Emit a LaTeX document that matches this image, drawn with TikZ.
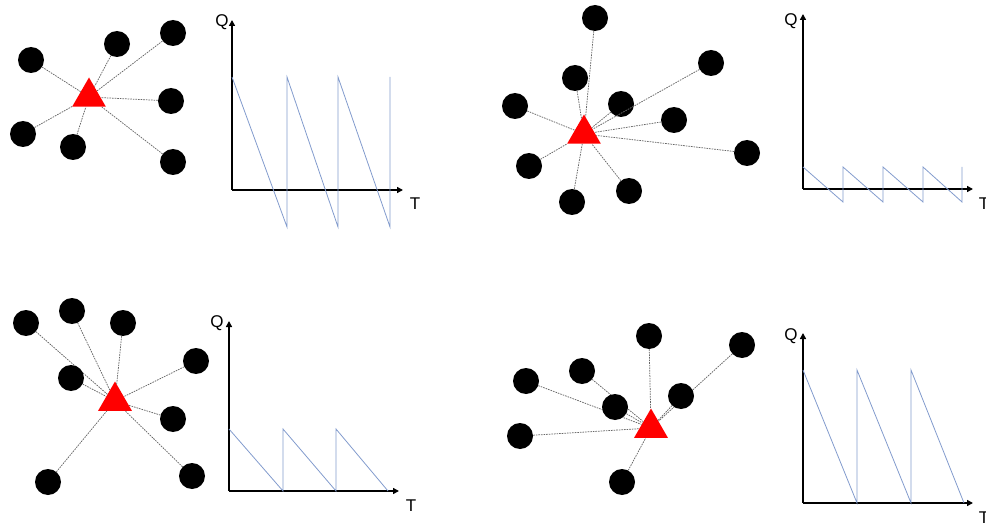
\documentclass[tikz,border=0pt]{standalone}
\usepackage{fontspec}
\setmainfont{Liberation Sans}
\usetikzlibrary{shapes.geometric,arrows.meta}
\begin{document}
\begin{tikzpicture}[x=1pt,y=-1pt,
 dot/.style={circle,fill=black,minimum size=26pt,inner sep=0pt},
 tri/.style={regular polygon,regular polygon sides=3,fill=red,minimum size=39pt,inner sep=0pt},
 link/.style={draw=black!60,dash pattern=on 1.6pt off 1pt,line width=0.75pt},
 axis/.style={line width=1.6pt,-{Triangle[length=6pt,width=6pt]}},
 saw/.style={draw={rgb,255:red,130;green,155;blue,205},line width=0.8pt},
 lab/.style={font=\fontsize{17}{17}\selectfont,inner sep=0pt}]
\useasboundingbox (0,0) rectangle (986,524);

% ---------- panel 1 ----------
\node[tri] (t1) at (89,97) {};
\foreach \n/\p in {a/{(31,60)},b/{(117,44)},c/{(173,33)},d/{(171,101)},e/{(23,134)},f/{(73,147)},g/{(173,162)}}
  {\node[dot] (p1\n) at \p {}; \draw[link] (p1\n) -- (t1);}
\coordinate (o1) at (232,190);
\draw[axis] (o1) -- (232,20);
\draw[axis] (o1) -- (403,190);
\node[lab] (q1) at (222,22) {Q};
\node[lab] (x1) at (415,204) {T};
\draw[saw] (232,77) -- (287,227) -- (287,77) -- (338,227) -- (338,77) -- (390,227) -- (390,77);

% ---------- panel 2 ----------
\node[tri] (t2) at (584,134) {};
\foreach \n/\p in {a/{(595,18)},b/{(575,78)},c/{(515,106)},d/{(621,104)},e/{(711,63)},f/{(674,120)},g/{(747,153)},h/{(529,166)},i/{(572,202)},j/{(629,191)}}
  {\node[dot] (p2\n) at \p {}; \draw[link] (p2\n) -- (t2);}
\coordinate (o2) at (803,189);
\draw[axis] (o2) -- (803,14);
\draw[axis] (o2) -- (973,189);
\node[lab] (q2) at (791,21) {Q};
\node[lab] (x2) at (984,204) {T};
\draw[saw] (803,167) -- (843,202) -- (843,167) -- (883,202) -- (883,167) -- (923,202) -- (923,167) -- (962,202) -- (962,167);

% ---------- panel 3 ----------
\node[tri] (t3) at (115,401) {};
\foreach \n/\p in {a/{(26,323)},b/{(72,311)},c/{(123,323)},d/{(196,361)},e/{(71,378)},f/{(173,419)},g/{(192,476)},h/{(48,482)}}
  {\node[dot] (p3\n) at \p {}; \draw[link] (p3\n) -- (t3);}
\coordinate (o3) at (229,491);
\draw[axis] (o3) -- (229,321);
\draw[axis] (o3) -- (399,491);
\node[lab] (q3) at (217,323) {Q};
\node[lab] (x3) at (411,506) {T};
\draw[saw] (229,429) -- (283,491) -- (283,429) -- (336,491) -- (336,429) -- (388,491);

% ---------- panel 4 ----------
\node[tri] (t4) at (651,428) {};
\foreach \n/\p in {a/{(649,336)},b/{(742,345)},c/{(582,371)},d/{(526,381)},e/{(681,396)},f/{(615,407)},g/{(520,436)},h/{(622,482)}}
  {\node[dot] (p4\n) at \p {}; \draw[link] (p4\n) -- (t4);}
\coordinate (o4) at (803,503);
\draw[axis] (o4) -- (803,333);
\draw[axis] (o4) -- (973,503);
\node[lab] (q4) at (791,336) {Q};
\node[lab] (x4) at (984,518) {T};
\draw[saw] (803,370) -- (857,503) -- (857,370) -- (911,503) -- (911,370) -- (964,503);
\end{tikzpicture}
\end{document}
